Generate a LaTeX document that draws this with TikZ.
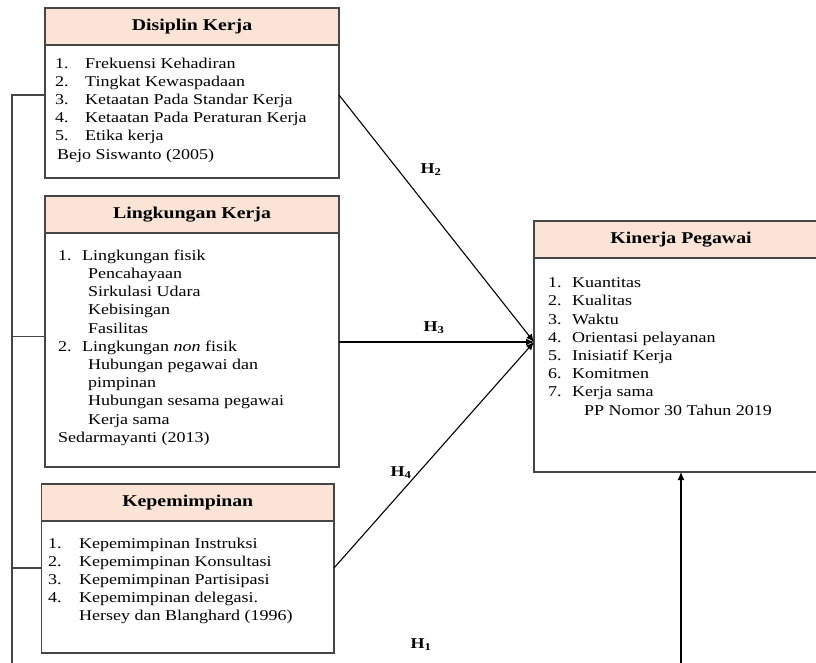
\documentclass[tikz,border=0pt]{standalone}
\usepackage{fontspec}
\setmainfont{Liberation Serif}[FakeStretch=1.2]
\usetikzlibrary{positioning,arrows.meta}

\definecolor{headColor}{RGB}{251,228,213}
\definecolor{lineColor}{RGB}{70,70,70}
\newcommand{\numitem}[3][30pt]{\makebox[#1][l]{#2}#3}

\begin{document}
\begin{tikzpicture}[x=1pt,y=-1pt,
  headbox/.style={draw=lineColor,line width=1.2pt,fill=headColor,anchor=north west,
    minimum width=294pt,minimum height=37pt,inner sep=0pt,outer sep=0pt,
    font=\fontsize{16.5}{18}\selectfont\bfseries},
  bodybox/.style={draw=lineColor,line width=1.2pt,anchor=north,
    minimum width=294pt,inner sep=0pt,outer sep=0pt},
  listtext/.style={anchor=north west,align=left,inner sep=0pt,
    font=\fontsize{15}{18.2}\selectfont},
  hlabel/.style={font=\fontsize{15}{18}\selectfont\bfseries,inner sep=0pt},
  link/.style={line width=1.1pt,-{Latex[length=8pt,width=7pt]}},
  tie/.style={draw=lineColor,line width=1.1pt}]
  \useasboundingbox (0,0) rectangle (816,663);
  \clip (0,0) rectangle (816,663);

  % Disiplin Kerja
  \node[headbox] (disiplinHead) at (45,8) {Disiplin Kerja};
  \node[bodybox,minimum height=133pt] (disiplinBody) at (disiplinHead.south) {};
  \node[listtext] (disiplinList) at ([xshift=10pt,yshift=-12.5pt]disiplinBody.north west)
    {\numitem{1.}{Frekuensi Kehadiran}\\
     \numitem{2.}{Tingkat Kewaspadaan}\\
     \numitem{3.}{Ketaatan Pada Standar Kerja}\\
     \numitem{4.}{Ketaatan Pada Peraturan Kerja}\\
     \numitem{5.}{Etika kerja}\\
     \hspace*{2pt}Bejo Siswanto (2005)};

  % Lingkungan Kerja
  \node[headbox] (lingkunganHead) at (45,196) {Lingkungan Kerja};
  \node[bodybox,minimum height=234pt] (lingkunganBody) at (lingkunganHead.south) {};
  \node[listtext] (lingkunganList) at ([xshift=13pt,yshift=-16.5pt]lingkunganBody.north west)
    {\numitem[24pt]{1.}{Lingkungan fisik}\\
     \hspace*{30pt}Pencahayaan\\
     \hspace*{30pt}Sirkulasi Udara\\
     \hspace*{30pt}Kebisingan\\
     \hspace*{30pt}Fasilitas\\
     \numitem[24pt]{2.}{Lingkungan \emph{non} fisik}\\
     \hspace*{30pt}Hubungan pegawai dan\\
     \hspace*{30pt}pimpinan\\
     \hspace*{30pt}Hubungan sesama pegawai\\
     \hspace*{30pt}Kerja sama\\
     Sedarmayanti (2013)};

  % Kepemimpinan
  \node[headbox,minimum width=292.5pt] (pimpinHead) at (41.5,484) {Kepemimpinan};
  \node[bodybox,minimum width=292.5pt,minimum height=132pt] (pimpinBody) at (pimpinHead.south) {};
  \node[listtext] (pimpinList) at ([xshift=6.5pt,yshift=-16.5pt]pimpinBody.north west)
    {\numitem[31pt]{1.}{Kepemimpinan Instruksi}\\
     \numitem[31pt]{2.}{Kepemimpinan Konsultasi}\\
     \numitem[31pt]{3.}{Kepemimpinan Partisipasi}\\
     \numitem[31pt]{4.}{Kepemimpinan delegasi.}\\
     \hspace*{31pt}Hersey dan Blanghard (1996)};

  % Kinerja Pegawai
  \node[headbox] (kinerjaHead) at (534,221) {Kinerja Pegawai};
  \node[bodybox,minimum height=214pt] (kinerjaBody) at (kinerjaHead.south) {};
  \node[listtext] (kinerjaList) at ([xshift=14pt,yshift=-19.5pt]kinerjaBody.north west)
    {\numitem[24pt]{1.}{Kuantitas}\\
     \numitem[24pt]{2.}{Kualitas}\\
     \numitem[24pt]{3.}{Waktu}\\
     \numitem[24pt]{4.}{Orientasi pelayanan}\\
     \numitem[24pt]{5.}{Inisiatif Kerja}\\
     \numitem[24pt]{6.}{Komitmen}\\
     \numitem[24pt]{7.}{Kerja sama}\\
     \hspace*{36pt}PP Nomor 30 Tahun 2019};

  % Left bracket
  \coordinate (leftEnd) at (12,670);
  \coordinate (disL) at ([yshift=-50pt]disiplinBody.north west);
  \coordinate (lingL) at ([yshift=-103.5pt]lingkunganBody.north west);
  \coordinate (pimpinL) at ([yshift=-47pt]pimpinBody.north west);
  \draw[tie] (disL) -| (leftEnd);
  \draw[tie] (lingL) -- (lingL -| leftEnd);
  \draw[tie] (pimpinL) -- (pimpinL -| leftEnd);

  % Hypotheses
  \coordinate (hub) at ([yshift=-84pt]kinerjaBody.north west);
  \coordinate (rightEnd) at (kinerjaBody.south |- leftEnd);
  \draw[link] ([yshift=-50pt]disiplinBody.north east) -- (hub);
  \draw[link] ([yshift=-109pt]lingkunganBody.north east) -- (hub);
  \draw[link] ([yshift=-47pt]pimpinBody.north east) -- (hub);
  \draw[link] (rightEnd) -- (kinerjaBody.south);
  \node[hlabel] (hTwo) at (431,170) {H\textsubscript{2}};
  \node[hlabel] (hThree) at (434,328) {H\textsubscript{3}};
  \node[hlabel] (hFour) at (401,473) {H\textsubscript{4}};
  \node[hlabel] (hOne) at (421,645) {H\textsubscript{1}};
\end{tikzpicture}
\end{document}
